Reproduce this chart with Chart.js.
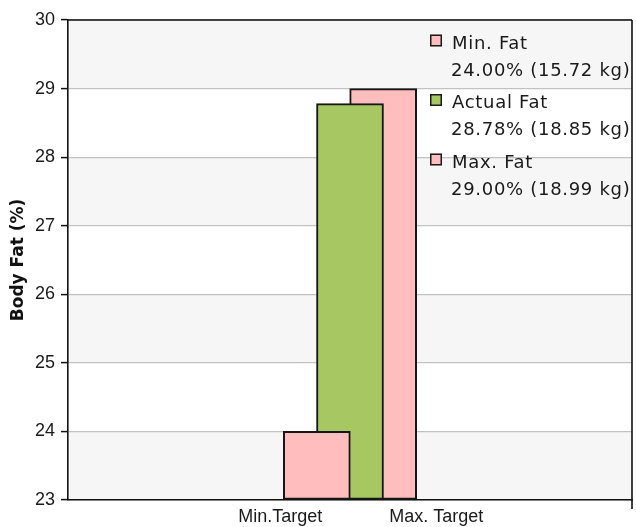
<!DOCTYPE html>
<html>
<head>
<meta charset="utf-8">
<script src="https://cdn.jsdelivr.net/npm/chart.js@4.4.1/dist/chart.umd.min.js"></script>
<style>
  html, body { margin: 0; padding: 0; background: #ffffff; }
  #wrap { width: 636px; height: 527px; }
</style>
</head>
<body>
<div id="wrap"><canvas id="fatChart" width="636" height="527"></canvas></div>
<script>
// Body fat: target range and measured value, in percent and kilograms
const seriesNames = ['Min. Fat', 'Actual Fat', 'Max. Fat'];
const fatPercent  = [24.00, 28.78, 29.00];
const fatKg       = [15.72, 18.85, 18.99];
const seriesColors = ['#FFBDBD', '#A7C763', '#FFBDBD'];

// where each bar sits along the horizontal axis (in axis units)
const barSlots = [7.5, 8.5, 9.5];

// horizontal axis captions and where they sit
const targetLabels = ['Min.Target', 'Max. Target'];
const targetTickAt = [6.4, 11.1];

// vertical axis range
const yMin = 23;
const yMax = 30;

const tickFont = { family: '"Liberation Sans", Arial, sans-serif', size: 18 };
const inkColor = '#1a1a1a';

// alternating light bands behind the grid
const bandPlugin = {
  id: 'bands',
  beforeDraw(chart) {
    const { ctx, chartArea: a, scales: { y } } = chart;
    ctx.save();
    for (let v = yMin; v < yMax; v++) {
      if ((v - yMin) % 2 === 0) {
        const top = y.getPixelForValue(v + 1);
        const bottom = y.getPixelForValue(v);
        ctx.fillStyle = '#F6F6F6';
        ctx.fillRect(a.left, top, a.right - a.left, bottom - top);
      }
    }
    ctx.restore();
  }
};

// top and right edges of the plot frame
const framePlugin = {
  id: 'frame',
  afterDatasetsDraw(chart) {
    const { ctx, chartArea: a } = chart;
    ctx.save();
    ctx.strokeStyle = '#111';
    ctx.lineWidth = 1.6;
    ctx.beginPath();
    ctx.moveTo(a.left, a.top);
    ctx.lineTo(a.right, a.top);
    ctx.moveTo(a.right, a.top);
    ctx.lineTo(a.right, a.bottom + 9);
    ctx.stroke();
    ctx.restore();
  }
};

// legend in the upper right corner of the plot, two lines per entry
const legendPlugin = {
  id: 'insideLegend',
  afterDraw(chart) {
    const { ctx, chartArea: a } = chart;
    const boxX = a.right - 202;
    const textX = boxX + 22;
    let base = a.top + 28.5;
    ctx.save();
    ctx.font = '18px "DejaVu Sans", Verdana, sans-serif';
    ctx.textBaseline = 'alphabetic';
    ctx.textAlign = 'left';
    if ('letterSpacing' in ctx) ctx.letterSpacing = '0.7px';
    seriesNames.forEach((name, i) => {
      ctx.fillStyle = seriesColors[i];
      ctx.fillRect(boxX, base - 14, 12, 12);
      ctx.strokeStyle = '#1a1a1a';
      ctx.lineWidth = 1.5;
      ctx.strokeRect(boxX + 0.75, base - 14 + 0.75, 10.5, 10.5);
      ctx.fillStyle = inkColor;
      ctx.fillText(name, textX, base);
      const line2 = fatPercent[i].toFixed(2) + '% (' + fatKg[i].toFixed(2) + ' kg)';
      ctx.fillText(line2, textX - 1, base + 27);
      base += 59.5;
    });
    ctx.restore();
  }
};

const datasets = seriesNames.map((name, i) => ({
  label: name,
  data: [{ x: barSlots[i], y: fatPercent[i] }],
  base: yMin,
  backgroundColor: seriesColors[i],
  borderColor: '#161616',
  borderWidth: 2,
  borderSkipped: false,
  barThickness: 67,
  grouped: false
}));

new Chart(document.getElementById('fatChart'), {
  type: 'bar',
  data: { datasets },
  options: {
    responsive: false,
    animation: false,
    layout: { padding: { top: 20, right: 4, left: 0, bottom: 0 } },
    plugins: { legend: { display: false }, tooltip: { enabled: false } },
    scales: {
      x: {
        type: 'linear',
        min: 0,
        max: 17,
        offset: false,
        grid: { display: false, drawTicks: false },
        border: { display: true, color: '#111', width: 1.6 },
        afterBuildTicks(scale) {
          scale.ticks = targetTickAt.map(v => ({ value: v }));
        },
        ticks: {
          autoSkip: false,
          maxRotation: 0,
          padding: 6,
          color: inkColor,
          font: tickFont,
          callback: (value, index) => targetLabels[index]
        },
        afterFit(scale) { scale.height = 27; }
      },
      y: {
        min: yMin,
        max: yMax,
        ticks: { stepSize: 1, padding: 6, color: inkColor, font: tickFont },
        grid: { color: '#C2C2C2', lineWidth: 1.2, tickColor: '#111', tickLength: 7, tickWidth: 1.5 },
        border: { color: '#111', width: 1.6 },
        title: {
          display: true,
          text: 'Body Fat (%)',
          color: '#111',
          font: { family: '"DejaVu Sans", Verdana, sans-serif', weight: 'bold', size: 17 },
          padding: { top: 8, bottom: 0 }
        },
        afterFit(scale) { scale.width = 68; }
      }
    }
  },
  plugins: [bandPlugin, framePlugin, legendPlugin]
});
</script>
</body>
</html>
